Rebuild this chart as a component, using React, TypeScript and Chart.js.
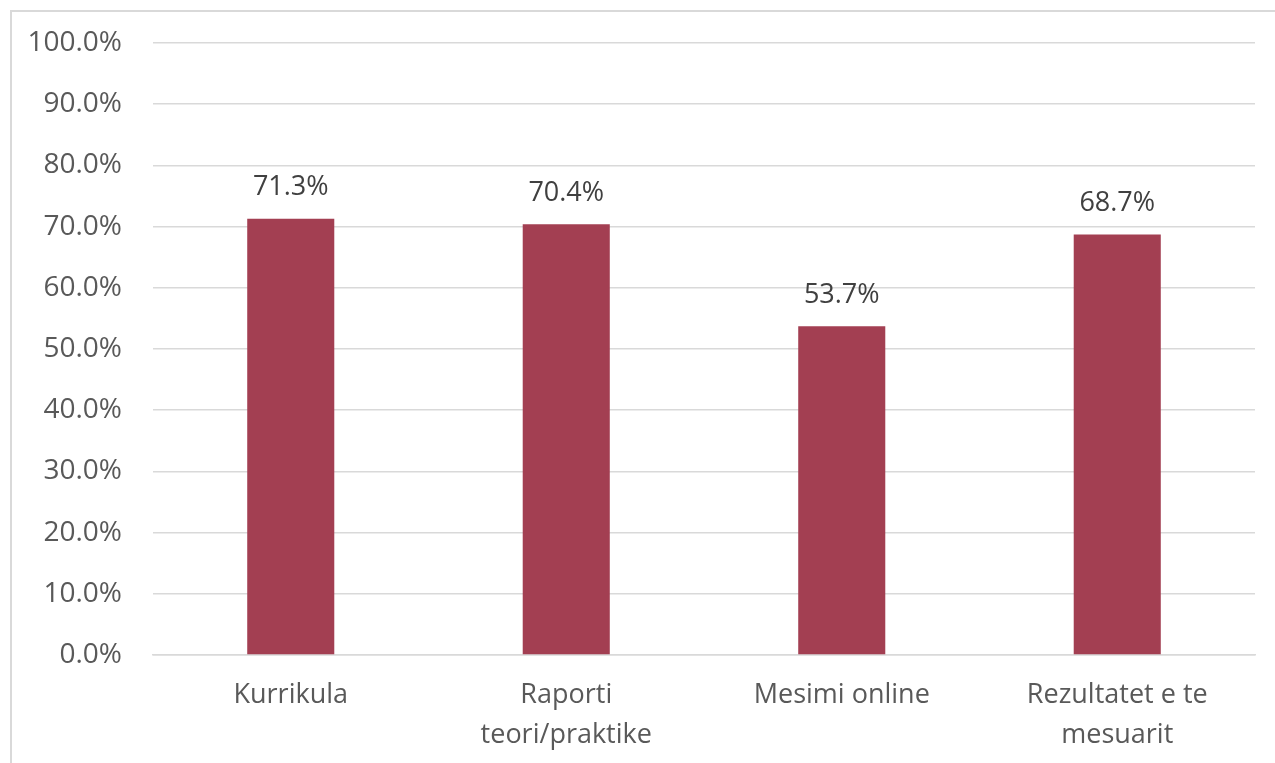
import React, { useEffect, useRef } from "react";
import { Chart, registerables } from "chart.js";

Chart.register(...registerables);

const categories: (string | string[])[] = [
  "Kurrikula",
  ["Raporti", "teori/praktike"],
  "Mesimi online",
  ["Rezultatet e te", "mesuarit"],
];
const values: number[] = [71.3, 70.4, 53.7, 68.7];
const yTicks: number[] = [0, 10, 20, 30, 40, 50, 60, 70, 80, 90, 100];

const FONT = "'Open Sans', sans-serif";

const labelPlugin = {
  id: "barLabels",
  afterDatasetsDraw(chart: any) {
    const ctx = chart.ctx;
    const meta = chart.getDatasetMeta(0);
    ctx.save();
    ctx.font = `27px ${FONT}`;
    ctx.fillStyle = "#404040";
    ctx.textAlign = "center";
    ctx.textBaseline = "middle";
    meta.data.forEach((bar: any, i: number) => {
      ctx.fillText(values[i].toFixed(1) + "%", bar.x, bar.y - 31);
    });
    ctx.restore();
  },
};

export default function App() {
  const ref = useRef<HTMLCanvasElement>(null);
  useEffect(() => {
    document.body.style.overflow = "hidden";
    const chart = new Chart(ref.current!, {
      type: "bar",
      data: {
        labels: categories,
        datasets: [
          {
            data: values,
            backgroundColor: "#A33F52",
            categoryPercentage: 0.316,
            barPercentage: 1,
          },
        ],
      },
      options: {
        animation: false,
        responsive: false,
        maintainAspectRatio: false,
        layout: { padding: { top: 43, right: 20, left: 0, bottom: 0 } },
        plugins: { legend: { display: false }, tooltip: { enabled: false } },
        scales: {
          x: {
            grid: { display: false, drawTicks: false },
            border: { display: true, color: "#d9d9d9", width: 1.5 },
            ticks: {
              color: "#595959",
              font: { family: FONT, size: 27, lineHeight: 1.5 },
              padding: 20,
              maxRotation: 0,
              autoSkip: false,
            },
            afterFit: (s: any) => {
              s.height = 108;
              s.paddingLeft = 0;
              s.paddingRight = 0;
            },
          },
          y: {
            min: 0,
            max: 100,
            afterBuildTicks: (s: any) => {
              s.ticks = yTicks.map((v) => ({ value: v }));
            },
            grid: { color: "#d9d9d9", lineWidth: 1.5, drawTicks: false },
            border: { display: false },
            ticks: {
              color: "#595959",
              font: { family: FONT, size: 28 },
              padding: 31,
              callback: (v: any) => Number(v).toFixed(1) + "%",
            },
            afterFit: (s: any) => {
              s.width = 153;
              s.paddingTop = 0;
              s.paddingBottom = 0;
            },
          },
        },
      },
      plugins: [labelPlugin],
    });
    return () => chart.destroy();
  }, []);
  return (
    <div>
      <canvas
        ref={ref}
        width={1275}
        height={763}
        style={{ position: "fixed", left: 0, top: 0, width: 1275, height: 763 }}
      />
      <div
        style={{
          position: "fixed",
          left: 10,
          top: 10,
          width: 1275,
          height: 763,
          borderLeft: "2px solid #d9d9d9",
          borderTop: "2px solid #d9d9d9",
          pointerEvents: "none",
        }}
      />
    </div>
  );
}
